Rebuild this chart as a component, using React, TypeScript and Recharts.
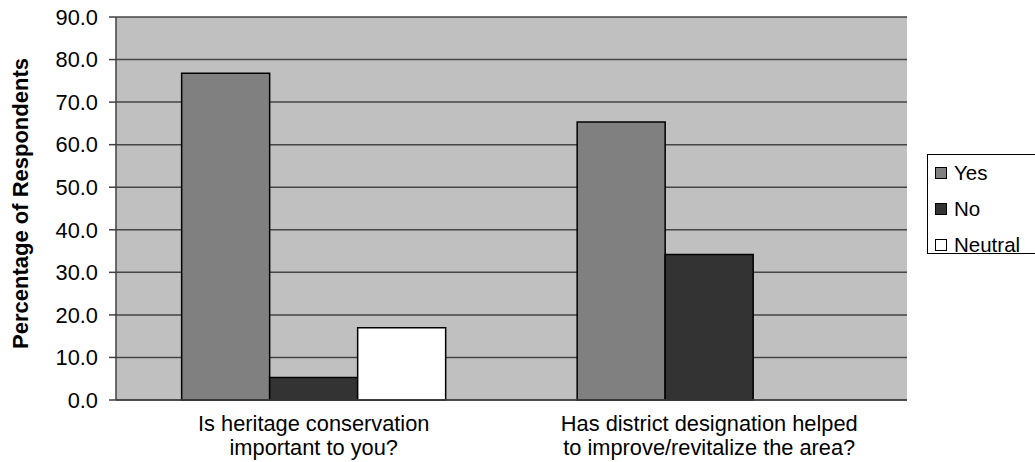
import React from 'react'
import { BarChart, Bar, XAxis, YAxis, CartesianGrid, Label } from 'recharts'

// survey answers, percent of respondents
const questionLines = [
  ['Is heritage conservation', 'important to you?'],
  ['Has district designation helped', 'to improve/revitalize the area?'],
]
const yesValues = [76.8, 65.3]
const noValues = [5.3, 34.2]
const neutralValues: (number | null)[] = [17.0, null]
const yTicks = [0, 10, 20, 30, 40, 50, 60, 70, 80, 90]
// category edges for the Excel-style tick marks between groups
const edgeTicks = [0, 1, 2]

const SERIES = [
  { key: 'yes', name: 'Yes', fill: '#808080' },
  { key: 'no', name: 'No', fill: '#333333' },
  { key: 'neutral', name: 'Neutral', fill: '#ffffff' },
]

const data = questionLines.map((lines, i) => ({
  question: lines.join(' '),
  yes: yesValues[i],
  no: noValues[i],
  neutral: neutralValues[i],
}))

const FONT = '"Liberation Sans", Arial, sans-serif'

function QuestionTick({ x, y, index }: any) {
  const lines = questionLines[index] ?? []
  return (
    <text x={x} y={y} textAnchor="middle" fontSize={21.8} fill="#000" fontFamily={FONT}>
      {lines.map((l, i) => (
        <tspan key={i} x={x} y={y + 23 + i * 24}>{l}</tspan>
      ))}
    </text>
  )
}

function AxisTitle({ viewBox }: any) {
  const cy = viewBox.y + viewBox.height / 2 - 5
  const cx = 28
  return (
    <text
      x={cx}
      y={cy}
      transform={`rotate(-90, ${cx}, ${cy})`}
      textAnchor="middle"
      fontSize={22}
      fontWeight="bold"
      fill="#000"
      fontFamily={FONT}
    >
      Percentage of Respondents
    </text>
  )
}

function LegendBox() {
  return (
    <div
      style={{
        position: 'absolute',
        left: 927,
        top: 154,
        width: 112,
        height: 100,
        boxSizing: 'border-box',
        border: '1px solid #000',
        background: '#fff',
        paddingTop: 0,
        fontFamily: FONT,
        fontSize: 20.5,
      }}
    >
      {SERIES.map(s => (
        <div key={s.key} style={{ height: 36, display: 'flex', alignItems: 'center', paddingLeft: 7, lineHeight: '20px' }}>
          <span
            style={{
              width: 12,
              height: 12,
              boxSizing: 'border-box',
              border: '1px solid #000',
              background: s.fill,
              marginRight: 7,
              display: 'inline-block',
            }}
          />
          <span>{s.name}</span>
        </div>
      ))}
    </div>
  )
}

export default function App() {
  return (
    <div
      style={{
        position: 'absolute',
        left: 0,
        top: 0,
        width: 1035,
        height: 462,
        overflow: 'hidden',
        background: '#fff',
        fontFamily: FONT,
      }}
    >
      <BarChart
        width={1035}
        height={462}
        data={data}
        margin={{ top: 17, right: 128, bottom: 0, left: 0 }}
        barCategoryGap="16.6%"
        barGap={0}
      >
        <CartesianGrid vertical={false} fill="#c0c0c0" stroke="#454545" strokeWidth={1.5} xAxisId="cat" />
        <XAxis
          xAxisId={0}
          type="number"
          domain={[0, 2]}
          ticks={edgeTicks}
          height={0}
          axisLine={false}
          tick={() => <g />}
          tickSize={6}
          tickLine={{ stroke: '#404040', strokeWidth: 1.5 }}
        />
        <XAxis
          xAxisId="cat"
          dataKey="question"
          height={62}
          tickLine={false}
          axisLine={{ stroke: '#404040', strokeWidth: 1.5 }}
          tick={<QuestionTick />}
          interval={0}
        />
        <YAxis
          width={116}
          domain={[0, 90]}
          ticks={yTicks}
          interval={0}
          tickFormatter={(v: number) => v.toFixed(1)}
          tick={{ fill: '#000', fontSize: 21.8, fontFamily: FONT }}
          tickSize={7}
          tickMargin={11}
          tickLine={{ stroke: '#404040', strokeWidth: 1.5 }}
          axisLine={{ stroke: '#404040', strokeWidth: 1.5 }}
        >
          <Label content={<AxisTitle />} />
        </YAxis>
        {SERIES.map(s => (
          <Bar
            key={s.key}
            xAxisId="cat"
            dataKey={s.key}
            name={s.name}
            fill={s.fill}
            stroke="#000"
            strokeWidth={1.5}
            isAnimationActive={false}
          />
        ))}
      </BarChart>
      <LegendBox />
    </div>
  )
}
